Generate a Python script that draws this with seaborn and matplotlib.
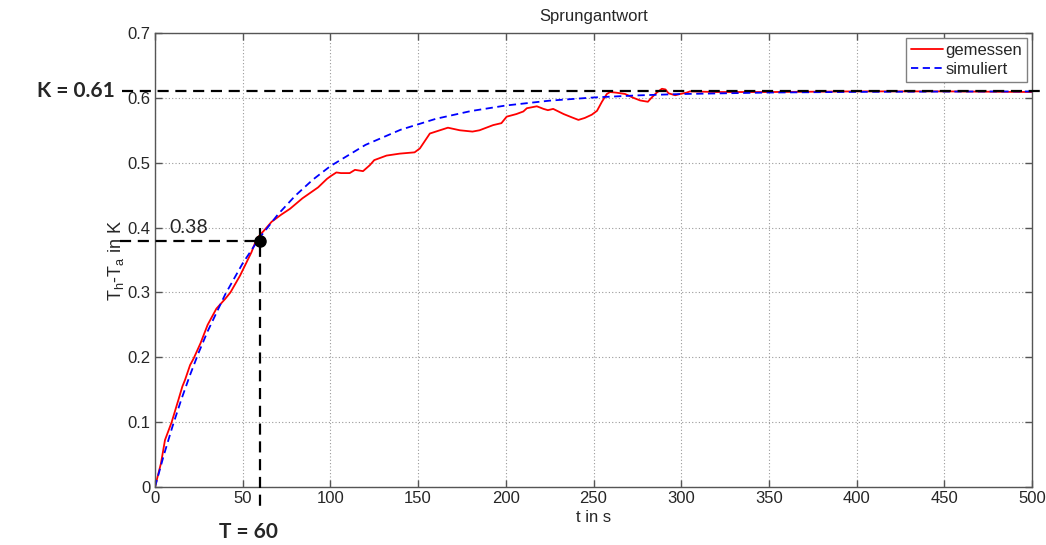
import numpy as np
import pandas as pd
import matplotlib
matplotlib.use("Agg")
import matplotlib.pyplot as plt
import seaborn as sns

# Measured step response (gemessen)
t_meas = [0, 3.4, 5.7, 9.5, 13.3, 15.6, 17.1, 20, 22, 26, 30, 35, 40, 43, 48.5,
          55, 58, 63, 66.5, 72, 77, 84, 93, 98, 100, 103.4, 106, 111, 114,
          118.6, 122.4, 125, 132, 139.5, 148, 151, 156.7, 162.4, 167, 173.8,
          181, 185, 192.8, 197.5, 200.5, 206, 210, 212, 217.7, 221.5, 224,
          227, 233, 237.6, 241.4, 245, 249, 252, 254.8, 257.6, 259.5, 263,
          268, 272.8, 276.6, 281, 283, 286, 289, 291, 292.8, 296.6, 299.4,
          303, 305, 320, 350, 400, 450, 500]
v_meas = [0, 0.0365, 0.0725, 0.100, 0.134, 0.155, 0.165, 0.188, 0.198, 0.222,
          0.250, 0.275, 0.290, 0.300, 0.326, 0.362, 0.383, 0.398, 0.409,
          0.420, 0.429, 0.445, 0.462, 0.475, 0.479, 0.485, 0.484, 0.484,
          0.489, 0.487, 0.496, 0.504, 0.511, 0.514, 0.516, 0.522, 0.545,
          0.550, 0.554, 0.550, 0.548, 0.550, 0.558, 0.561, 0.571, 0.575,
          0.579, 0.584, 0.587, 0.583, 0.581, 0.583, 0.575, 0.570, 0.566,
          0.569, 0.574, 0.580, 0.594, 0.606, 0.609, 0.608, 0.606, 0.600,
          0.596, 0.594, 0.600, 0.608, 0.614, 0.613, 0.607, 0.604, 0.606,
          0.608, 0.610, 0.609, 0.609, 0.610, 0.610, 0.609]

# Simulated first-order response (simuliert)
t_sim = [0, 5, 10, 15, 20, 25, 30, 40, 50, 60, 70, 80, 90, 100, 120, 140,
         160, 180, 200, 225, 250, 275, 300, 350, 400, 450, 500]
v_sim = [0, 0.0488, 0.0936, 0.1349, 0.1729, 0.2079, 0.2400, 0.2968, 0.3449,
         0.3856, 0.4200, 0.4492, 0.4739, 0.4948, 0.5275, 0.5508, 0.5676,
         0.5796, 0.5882, 0.5957, 0.6006, 0.6038, 0.6059, 0.6082, 0.6092,
         0.6097, 0.6099]

# Characteristic values
K_gain = 0.61
T_const = 60
v_at_T = 0.38

x_ticks = [0, 50, 100, 150, 200, 250, 300, 350, 400, 450, 500]
y_ticks = [0, 0.1, 0.2, 0.3, 0.4, 0.5, 0.6, 0.7]

sns.set_theme(style="ticks")
plt.rcParams["font.family"] = ["Liberation Sans", "DejaVu Sans"]
plt.rcParams["mathtext.default"] = "regular"

df_meas = pd.DataFrame({"t": t_meas, "v": v_meas})
df_sim = pd.DataFrame({"t": t_sim, "v": v_sim})

fig = plt.figure(figsize=(10.46, 5.45), dpi=100)
ax = fig.add_axes([155 / 1046, 58 / 545, 877 / 1046, 454 / 545])

sns.lineplot(data=df_meas, x="t", y="v", ax=ax, color="#ff0000", lw=1.3,
             estimator=None, label="gemessen")
sns.lineplot(data=df_sim, x="t", y="v", ax=ax, color="#0000ff", lw=1.3,
             estimator=None, label="simuliert")
ax.lines[-1].set_linestyle((0, (4, 2.5)))

ax.set_xlim(0, 500)
ax.set_ylim(0, 0.7)
ax.set_xticks(x_ticks)
ax.set_yticks(y_ticks)
ax.set_xticklabels([str(v) for v in x_ticks])
ax.set_yticklabels(["0" if v == 0 else f"{v:g}" for v in y_ticks])

ax.grid(True, linestyle=(0, (1, 2)), color="#9a9a9a", linewidth=0.8)
ax.tick_params(direction="in", length=5, width=1, top=True, right=True,
               labelsize=12, labelcolor="#262626", color="#555555", pad=3)
for sp in ax.spines.values():
    sp.set_color("#555555")
    sp.set_linewidth(1.0)

ax.set_title("Sprungantwort", fontsize=12, color="#262626", pad=8.5)
ax.set_xlabel("t in s", fontsize=12, color="#262626", labelpad=3)
ax.set_ylabel(r"T$_h$-T$_a$ in K", fontsize=13, color="#262626")
ax.yaxis.set_label_coords(-0.033, 0.5)

# Construction lines for gain K and time constant T
dash = (0, (5, 3))
ax.plot([-19, 505], [K_gain, K_gain], color="black", lw=1.6, ls=dash,
        clip_on=False, zorder=5)
ax.plot([-20, T_const], [v_at_T, v_at_T], color="black", lw=1.6, ls=dash,
        clip_on=False, zorder=5)
ax.plot([T_const, T_const], [0.40, -0.038], color="black", lw=1.6, ls=dash,
        clip_on=False, zorder=5)
ax.plot([T_const], [v_at_T], marker="o", color="black", markersize=8,
        zorder=6, clip_on=False)

ax.text(-45, K_gain, "K = 0.61", fontsize=15, fontweight="bold",
        family="Lato", ha="center", va="center", clip_on=False)
ax.text(19, 0.40, "0.38", fontsize=14, family="Lato",
        ha="center", va="center", clip_on=False)
ax.text(53, -0.069, "T = 60", fontsize=15, fontweight="bold",
        family="Lato", ha="center", va="center", clip_on=False)

leg = ax.legend(loc="upper right", fontsize=12, frameon=True, fancybox=False,
                handlelength=1.9, handletextpad=0.15, labelspacing=0.25,
                borderpad=0.3, borderaxespad=0.3)
leg.get_frame().set_edgecolor("#808080")
leg.get_frame().set_linewidth(1.0)
leg.get_frame().set_alpha(1.0)

fig.savefig("out.png", dpi=100, facecolor="white")
